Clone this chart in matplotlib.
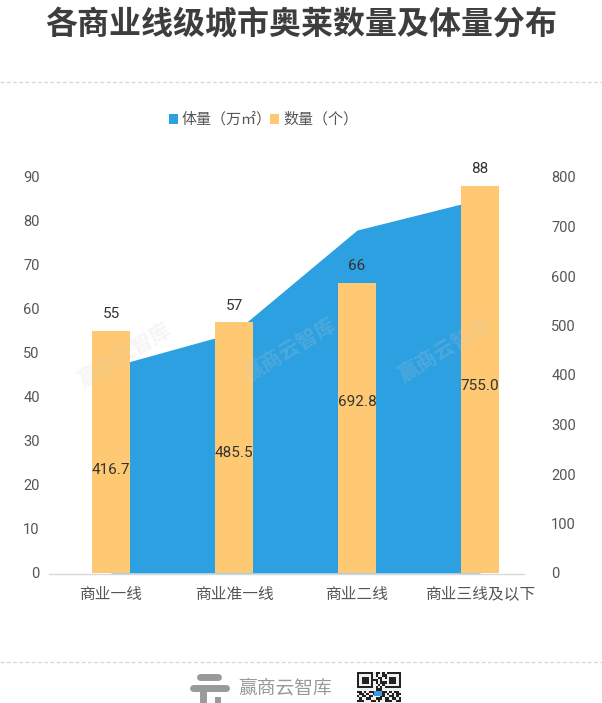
import matplotlib
matplotlib.use("Agg")
import matplotlib.pyplot as plt
from matplotlib.patches import Rectangle
from matplotlib.lines import Line2D

plt.rcParams['font.family'] = ['Noto Sans CJK SC', 'DejaVu Sans']

categories = ['商业一线', '商业准一线', '商业二线', '商业三线及以下']
count_values = [55, 57, 66, 88]               # 数量（个） left axis
volume_values = [416.7, 485.5, 692.8, 755.0]  # 体量（万㎡） right axis
left_ticks = [0, 10, 20, 30, 40, 50, 60, 70, 80, 90]
right_ticks = [0, 100, 200, 300, 400, 500, 600, 700, 800]

BLUE = '#2CA0E0'
YELLOW = '#FFC973'
TXT = '#555555'
NUMFONT = ['Roboto', 'Noto Sans CJK SC']

W, H = 602, 703
fig = plt.figure(figsize=(W / 100, H / 100), dpi=100)

def fx(px):
    return px / W

def fy(py):
    return 1 - py / H

left_px, right_px = 111 - 61.5, 480 + 61.5
top_px, bot_px = 177, 573
rect = [fx(left_px), fy(bot_px), (right_px - left_px) / W, (bot_px - top_px) / H]
ax2 = fig.add_axes(rect)
ax = fig.add_axes(rect, sharex=ax2)
ax.set_zorder(ax2.get_zorder() + 1)
ax.patch.set_visible(False)

x = list(range(len(categories)))

# area (right axis)
ax2.fill_between(x, 0, volume_values, color=BLUE, lw=0, zorder=1)
ax2.set_ylim(0, 800)
ax2.set_xlim(-0.5, len(categories) - 0.5)
ax2.yaxis.tick_right()
ax2.set_yticks(right_ticks)
ax2.set_yticklabels([str(t) for t in right_ticks], family=NUMFONT, fontsize=10.5, color=TXT, ha='left')
ax2.tick_params(axis='y', length=0, pad=7)
ax2.set_xticks(x)
ax2.set_xticklabels(categories, fontsize=11.3, color=TXT)
ax2.tick_params(axis='x', length=0, pad=9)
for s in ax2.spines.values():
    s.set_visible(False)

# bars (left axis)
bar_w = 0.317
ax.bar(x, count_values, width=bar_w, color=YELLOW, lw=0, zorder=2)
ax.set_ylim(0, 90)
ax.set_yticks(left_ticks)
ax.set_yticklabels([str(t) for t in left_ticks], family=NUMFONT, fontsize=10.5, color=TXT)
ax.tick_params(axis='y', length=0, pad=7)
ax.tick_params(axis='x', length=0, labelbottom=False)
for s in ax.spines.values():
    s.set_visible(False)

for xi, c in zip(x, count_values):
    ax.text(xi, c + 2.2, str(c), ha='center', va='bottom', family=NUMFONT, fontsize=11, color='#333333')
for xi, v in zip(x, volume_values):
    ax.text(xi, v / 2 * 90 / 800, f'{v:.1f}', ha='center', va='center', family=NUMFONT,
            fontsize=11, color='#333333', zorder=5)

# baseline
fig.add_artist(Line2D([fx(49), fx(524)], [fy(573.5), fy(573.5)], color='#d9d9d9', lw=1))

# watermarks
for cx, cy in [(125, 355), (290, 350), (445, 350)]:
    fig.text(fx(cx), fy(cy), '赢商云智库', rotation=31, ha='center', va='center', fontsize=15,
             fontweight='bold', color='#cccccc', alpha=0.2, zorder=10)

# title
fig.text(0.5, fy(25), '各商业线级城市奥莱数量及体量分布', ha='center', va='center', fontsize=23,
         fontweight='bold', color='#3d3d3d')

# dashed separators
for yy in [82, 662]:
    fig.add_artist(Line2D([0, 1], [fy(yy), fy(yy)], color='#d6d6d6', lw=0.9, ls=(0, (3, 2))))

# legend
fig.add_artist(Rectangle((fx(169), fy(124)), 9 / W, 10 / H, color=BLUE, lw=0))
fig.text(fx(182), fy(119.5), '体量（万㎡）', ha='left', va='center', fontsize=10.8, color=TXT)
fig.add_artist(Rectangle((fx(270), fy(124)), 9 / W, 10 / H, color=YELLOW, lw=0))
fig.text(fx(283), fy(119.5), '数量（个）', ha='left', va='center', fontsize=10.8, color=TXT)

# footer logo
gray = '#9a9a9a'
fig.add_artist(Line2D([fx(200), fx(218)], [fy(677), fy(677)], color=gray, lw=5, solid_capstyle='round'))
fig.add_artist(Line2D([fx(193), fx(226)], [fy(688), fy(688)], color=gray, lw=5, solid_capstyle='round'))
fig.add_artist(Line2D([fx(203), fx(203)], [fy(688), fy(703)], color=gray, lw=5, solid_capstyle='butt'))
fig.add_artist(Rectangle((fx(215), fy(703)), 6 / W, 6 / H, color=gray, lw=0))
fig.text(fx(238), fy(688), '赢商云智库', ha='left', va='center', fontsize=13.5, color='#999999')

# QR-like badge
qx, qy, qs = 357, 672, 44
fig.add_artist(Rectangle((fx(qx), fy(qy + qs)), qs / W, qs / H, color='#f0f0f0', lw=0))
pattern = [
    "1111111011010111111",
    "1000001010011000001",
    "1011101001101011101",
    "1011101110100011101",
    "1011101010111011101",
    "1000001001010000001",
    "1111111010101111111",
    "0000000011100000000",
    "1101011101011010110",
    "0110100110010101011",
    "1011011000110011010",
    "0100110011101101101",
    "1110001101001110011",
]
cell = qs / 19
for r, row in enumerate(pattern):
    for c, ch in enumerate(row):
        if ch == '1':
            fig.add_artist(Rectangle((fx(qx + c * cell), fy(qy + (r + 1) * cell)), cell / W, cell / H,
                                     color='#222222', lw=0))
fig.add_artist(Rectangle((fx(qx + 17), fy(qy + 24)), 8 / W, 5 / H, color='#3a9be0', lw=0))

fig.savefig('out.png', dpi=100, facecolor='white')
